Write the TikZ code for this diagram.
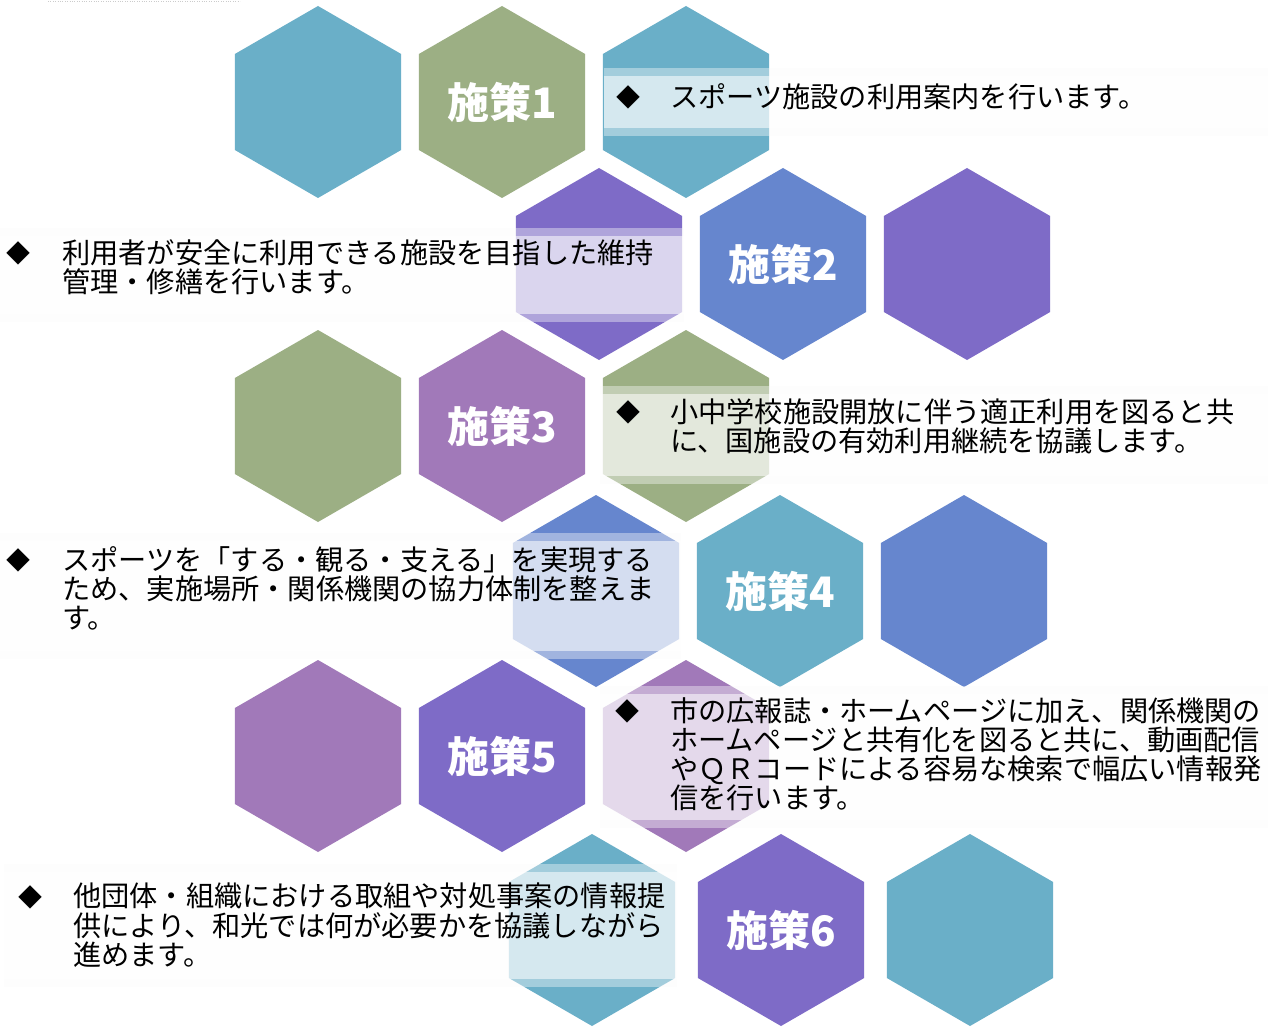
\documentclass[tikz,border=0pt]{standalone}
\usepackage{fontspec}
\newfontfamily\jpfont{Noto Sans CJK JP}
\usetikzlibrary{shapes.geometric, positioning}

\definecolor{cteal}{HTML}{6AAFC8}
\definecolor{cgreen}{HTML}{9CAF84}
\definecolor{cpurple}{HTML}{7E6BC7}
\definecolor{cblue}{HTML}{6686CE}
\definecolor{cmauve}{HTML}{A179B9}

\tikzstyle{hexcell} = [regular polygon, regular polygon sides=6, shape border rotate=30, minimum size=192pt, inner sep=0pt, outer sep=0pt, draw=none]
\tikzstyle{plan} = [text=white, font=\jpfont\bfseries\fontsize{42}{42}\selectfont]
\tikzstyle{note} = [anchor=north west, inner sep=0pt, align=left, font=\jpfont\fontsize{28.2}{29.3}\selectfont]
\tikzstyle{bulletmark} = [inner sep=0pt, font=\jpfont\fontsize{24}{24}\selectfont]
\tikzstyle{bandout} = [fill=gray!4, fill opacity=0.4]
\tikzstyle{bandin} = [fill=white, fill opacity=0.55]

\begin{document}
\begin{tikzpicture}[x=1pt, y=-1pt, node distance=184pt]

\useasboundingbox (0,0) rectangle (1268,1027);
\fill[white] (0,0) rectangle (1268,1027);
\draw[gray!40, dotted] (48,1) -- (240,1);

% row 1
\node at (318,102) (h11) [hexcell, fill=cteal] {};
\node (h12) [hexcell, fill=cgreen, plan, right of=h11] {施策1};
\node (h13) [hexcell, fill=cteal, right of=h12] {};

% row 2
\node at (599,264) (h21) [hexcell, fill=cpurple] {};
\node (h22) [hexcell, fill=cblue, plan, right of=h21] {施策2};
\node (h23) [hexcell, fill=cpurple, right of=h22] {};

% row 3
\node at (318,426) (h31) [hexcell, fill=cgreen] {};
\node (h32) [hexcell, fill=cmauve, plan, right of=h31] {施策3};
\node (h33) [hexcell, fill=cgreen, right of=h32] {};

% row 4
\node at (596,591) (h41) [hexcell, fill=cblue] {};
\node (h42) [hexcell, fill=cteal, plan, right of=h41] {施策4};
\node (h43) [hexcell, fill=cblue, right of=h42] {};

% row 5
\node at (318,756) (h51) [hexcell, fill=cmauve] {};
\node (h52) [hexcell, fill=cpurple, plan, right of=h51] {施策5};
\node (h53) [hexcell, fill=cmauve, right of=h52] {};

% row 6
\node at (592,930) (h61) [hexcell, fill=cteal] {};
\node (h62) [hexcell, fill=cpurple, plan, right of=h61, node distance=189pt] {施策6};
\node (h63) [hexcell, fill=cteal, right of=h62, node distance=189pt] {};

% text bands
\fill[bandout] (604,68) rectangle (1268,136);
\fill[bandin] (604,76) rectangle (1268,128);
\fill[bandout] (0,228) rectangle (684,322);
\fill[bandin] (0,236) rectangle (684,314);
\fill[bandout] (600,386) rectangle (1268,484);
\fill[bandin] (600,394) rectangle (1268,476);
\fill[bandout] (0,533) rectangle (681,659);
\fill[bandin] (0,541) rectangle (681,651);
\fill[bandout] (600,686) rectangle (1268,828);
\fill[bandin] (600,694) rectangle (1268,820);
\fill[bandout] (4,864) rectangle (677,987);
\fill[bandin] (4,872) rectangle (677,979);

% texts
\node (b1) [bulletmark] at (628,97) {◆};
\node (t1) [note] at (670,83) {スポーツ施設の利用案内を行います。};

\node (b2) [bulletmark] at (18,253) {◆};
\node (t2) [note] at (62,239) {利用者が安全に利用できる施設を目指した維持\\管理・修繕を行います。};

\node (b3) [bulletmark] at (628,412) {◆};
\node (t3) [note] at (670,398) {小中学校施設開放に伴う適正利用を図ると共\\に、国施設の有効利用継続を協議します。};

\node (b4) [bulletmark] at (18,560) {◆};
\node (t4) [note] at (62,546) {スポーツを「する・観る・支える」を実現する\\ため、実施場所・関係機関の協力体制を整えま\\す。};

\node (b5) [bulletmark] at (627,711) {◆};
\node (t5) [note] at (670,697) {市の広報誌・ホームページに加え、関係機関の\\ホームページと共有化を図ると共に、動画配信\\やＱＲコードによる容易な検索で幅広い情報発\\信を行います。};

\node (b6) [bulletmark] at (30,897) {◆};
\node (t6) [note] at (73,883) {他団体・組織における取組や対処事案の情報提\\供により、和光では何が必要かを協議しながら\\進めます。};

\end{tikzpicture}
\end{document}
